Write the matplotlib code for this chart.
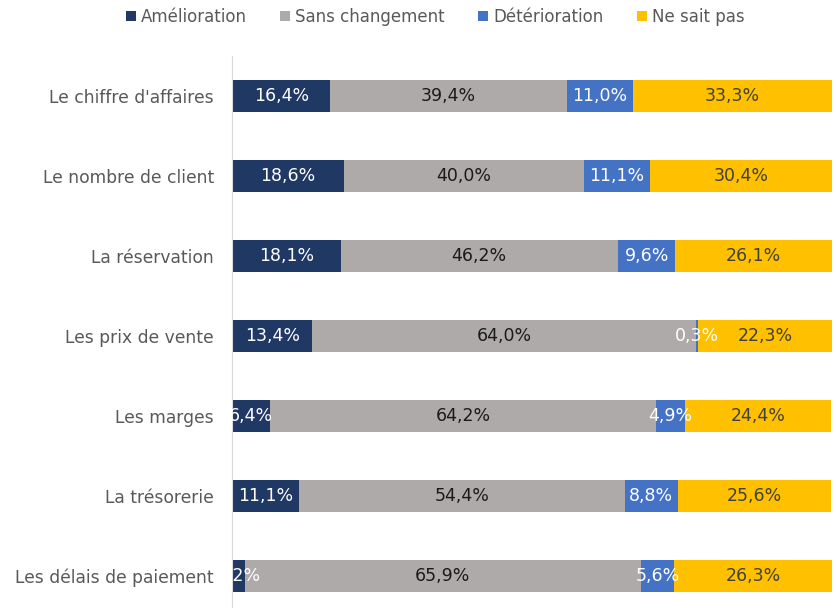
import matplotlib
matplotlib.use("Agg")
import matplotlib.pyplot as plt
import numpy as np

categories = [
    "Le chiffre d'affaires",
    "Le nombre de client",
    "La réservation",
    "Les prix de vente",
    "Les marges",
    "La trésorerie",
    "Les délais de paiement",
]
series_names = ["Amélioration", "Sans changement", "Détérioration", "Ne sait pas"]
amelioration = [16.4, 18.6, 18.1, 13.4, 6.4, 11.1, 2.2]
sans_changement = [39.4, 40.0, 46.2, 64.0, 64.2, 54.4, 65.9]
deterioration = [11.0, 11.1, 9.6, 0.3, 4.9, 8.8, 5.6]
ne_sait_pas = [33.3, 30.4, 26.1, 22.3, 24.4, 25.6, 26.3]

colors = ["#203864", "#AEAAAA", "#4472C4", "#FFC000"]
label_colors = ["white", "#1a1a1a", "white", "#404040"]

plt.rcParams["font.family"] = ["DejaVu Sans"]

fig = plt.figure(figsize=(8.37, 6.08), dpi=100)
ax = fig.add_axes([232 / 837, 0.0, 600 / 837, 1 - 56 / 608])

y = np.arange(len(categories))
left = np.zeros(len(categories))
for name, values, color, tcolor in zip(
    series_names,
    (amelioration, sans_changement, deterioration, ne_sait_pas),
    colors,
    label_colors,
):
    values = np.array(values)
    ax.barh(y, values, left=left, height=0.4, color=color, label=name)
    for yi, l, v in zip(y, left, values):
        ax.text(l + v / 2, yi, f"{v:.1f}%".replace(".", ","),
                ha="center", va="center", color=tcolor, fontsize=12.5,
                clip_on=False)
    left += values

ax.set_xlim(0, 100)
ax.set_ylim(6.4, -0.5)
ax.set_yticks(y)
ax.set_yticklabels(categories, fontsize=12.3, color="#595959")
ax.tick_params(axis="y", length=0, pad=13)
ax.set_xticks([])
for side in ("top", "right", "bottom"):
    ax.spines[side].set_visible(False)
ax.spines["left"].set_color("#D9D9D9")

handles, labels = ax.get_legend_handles_labels()
fig.legend(handles, labels, loc="upper center", bbox_to_anchor=(0.52, 1.012),
           ncol=4, frameon=False, fontsize=12, labelcolor="#595959",
           handlelength=0.6, handleheight=0.6, handletextpad=0.3,
           columnspacing=2.0)

fig.savefig("out.png", dpi=100)
